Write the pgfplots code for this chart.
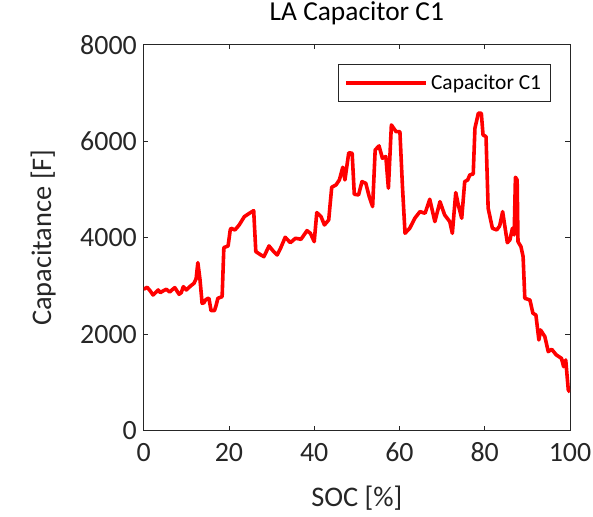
\documentclass[border=0pt]{standalone}
\usepackage{pgfplots}
\pgfplotsset{compat=1.18}
\usepackage{fontspec}
\setmainfont{Carlito}
\definecolor{axgray}{rgb}{0.15,0.15,0.15}
\begin{document}
\begin{tikzpicture}
\begin{axis}[
  scale only axis,
  width=426.3bp, height=386bp,
  xmin=0, xmax=100, ymin=0, ymax=8000,
  xtick={0,20,...,100}, ytick={0,2000,...,8000},
  tick align=inside,
  major tick length=4.7bp,
  axis line style={axgray, line width=0.8bp},
  every tick/.style={axgray, line width=0.8bp},
  tick label style={font=\fontsize{28}{32}\selectfont, text=axgray},
  /pgf/number format/assume math mode=true,
  /pgf/number format/1000 sep={},
  scaled y ticks=false,
  xticklabel style={yshift=-8.7bp},
  yticklabel style={xshift=-3.4bp},
  title={LA Capacitor C1},
  title style={at={(axis description cs:0.5,1.0485)}, anchor=base, font=\fontsize{27.5}{31}\selectfont, text=black},
  xlabel={SOC [\%]},
  xlabel style={at={(axis description cs:0.5,-0.175)}, anchor=center, font=\fontsize{28.5}{32}\selectfont, text=axgray},
  ylabel={Capacitance [F]},
  ylabel style={at={(axis description cs:-0.236,0.5)}, anchor=center, rotate=0, font=\fontsize{28.5}{32}\selectfont, text=axgray},
  legend style={at={(axis description cs:1,1)}, anchor=north east, xshift=-19bp, yshift=-19bp,
    draw=axgray, line width=0.8bp, font=\fontsize{21.5}{24}\selectfont,
    inner xsep=6.5bp, inner ysep=7.5bp, nodes={inner sep=3bp}},
  legend image code/.code={\draw[#1] (0bp,0bp) -- (80bp,0bp);},
]
\coordinate (sw) at (rel axis cs:0,0);
\coordinate (ne) at (rel axis cs:1,1);
\addplot[red, line width=3.6bp, line join=round] coordinates {
(0,2931) (0.8,2973) (1.5,2900) (2.2,2813) (3.0,2880) (3.4,2917) (3.9,2861)
(4.6,2900) (5.3,2931) (6.1,2875) (6.8,2930) (7.3,2965) (8.3,2828) (8.8,2860)
(9.3,2985) (10.0,2917) (11.0,3000) (11.8,3055) (12.3,3150) (12.7,3483)
(13.2,3138) (13.7,2641) (14.1,2650) (14.5,2709) (15.0,2740) (15.3,2744)
(15.8,2488) (16.6,2488) (17.0,2600) (17.4,2744) (18.4,2778) (18.8,3794)
(19.8,3829) (20.3,4161) (20.5,4195) (21.4,4160) (22.4,4264) (23.6,4436)
(24.8,4506) (25.8,4561) (26.3,3711) (27.5,3642) (28.2,3607) (29.4,3829)
(30.5,3711) (31.3,3642) (32.1,3781) (33.2,4009) (34.4,3897) (35.6,3988)
(36.9,3967) (38.3,4146) (39.1,4092) (40.0,3918) (40.6,4520) (41.6,4436)
(42.4,4264) (43.4,4368) (44.1,5046) (45.1,5093) (45.9,5197) (46.7,5460)
(47.2,5197) (48.1,5760) (48.9,5750) (49.4,4900) (50.4,4886) (51.2,5162)
(52.1,5128) (52.9,4851) (53.7,4644) (54.3,5819) (55.2,5902) (56.0,5647)
(56.8,5681) (57.4,5025) (58.1,6337) (59.2,6198) (60.1,6198) (60.7,5058)
(61.3,4092) (62.4,4195) (63.6,4403) (64.8,4540) (66.0,4506) (67.1,4797)
(68.3,4333) (69.5,4747) (70.6,4471) (71.8,4333) (72.4,4092) (73.2,4934)
(73.8,4679) (74.6,4403) (75.3,5162) (76.0,5197) (76.5,5301) (77.3,5321)
(77.7,6269) (78.5,6580) (79.2,6580) (79.6,6130) (80.3,6095) (80.8,4610)
(81.8,4196) (82.8,4161) (83.5,4243) (84.2,4540) (85.3,3897) (85.9,3953)
(86.5,4196) (86.9,4057) (87.2,5253) (87.6,5197) (87.8,3918) (88.5,3814)
(89.0,3607) (89.4,2744) (90.6,2709) (91.3,2434) (92.0,2398) (92.7,1880)
(93.1,2087) (94.1,1949) (94.9,1638) (95.7,1687) (96.8,1569) (98.0,1500)
(98.5,1327) (99.0,1466) (99.6,844) (100,800)
};
\addlegendentry{Capacitor C1}
\end{axis}
\pgfresetboundingbox
\path[use as bounding box] ([shift={(-143.7bp,-86.3bp)}]sw) rectangle ([shift={(23bp,44.7bp)}]ne);
\end{tikzpicture}
\end{document}
